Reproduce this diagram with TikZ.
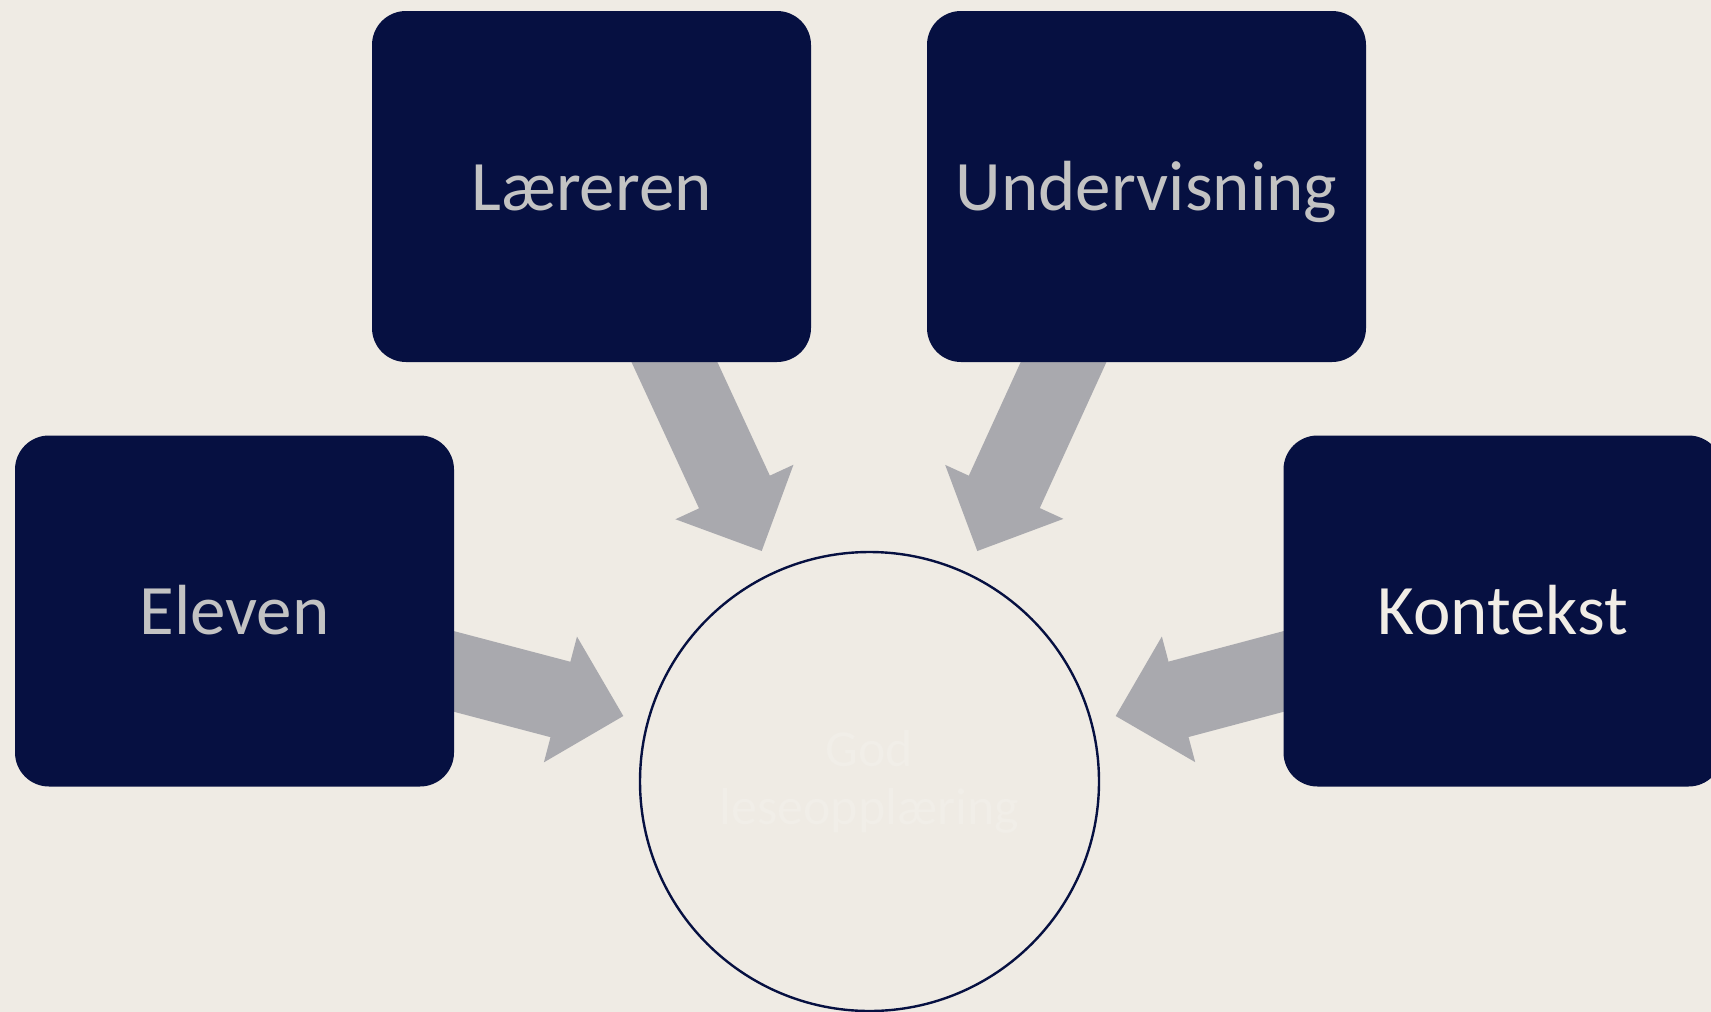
\documentclass[tikz,border=0pt]{standalone}
\usepackage{fontspec}
\setmainfont{Carlito}
\usetikzlibrary{calc}
\pgfdeclarelayer{canvas}
\pgfdeclarelayer{back}
\pgfsetlayers{canvas,back,main}

\definecolor{pagebg}{HTML}{EFEBE4}
\definecolor{navy}{HTML}{061041}
\definecolor{arrowgray}{HTML}{A9A9AE}
\definecolor{labelgray}{HTML}{C3C3C3}
\definecolor{labelcream}{HTML}{F1EDE6}
\definecolor{ghost}{HTML}{F1EEE8}

% broad block arrow from #1 (tail, hidden under a box) to #2 (tip)
\newcommand\blockarrow[2]{%
  \fill[arrowgray]
    ($(#1)!39pt!90:(#2)$)
    -- ($($(#2)!65pt!(#1)$)!39pt!90:(#2)$)
    -- ($($(#2)!65pt!(#1)$)!65pt!90:(#2)$)
    -- (#2)
    -- ($($(#2)!65pt!(#1)$)!65pt!-90:(#2)$)
    -- ($($(#2)!65pt!(#1)$)!39pt!-90:(#2)$)
    -- ($(#1)!39pt!-90:(#2)$)
    -- cycle;}

\tikzset{
  factor/.style={rectangle, rounded corners=34pt, fill=navy,
    minimum width=439pt, minimum height=351pt, inner sep=0pt,
    font=\fontsize{71}{85}\selectfont, text height=47pt, text depth=0pt},
  goal/.style={circle, draw=navy, line width=2.4pt, minimum size=459pt,
    inner sep=0pt, align=center, text=ghost,
    font=\fontsize{52}{58}\selectfont},
}

\begin{document}
\begin{tikzpicture}[x=1pt,y=-1pt]
  \useasboundingbox (0,0) rectangle (1711,1012);
  \begin{pgfonlayer}{canvas}
    \fill[pagebg] (0,0) rectangle (1711,1012);
  \end{pgfonlayer}

  % the four factors
  \node[factor, text=labelgray]  (lae) at (591.5,186.5) {Læreren};
  \node[factor, text=labelgray]  (und) at (1146.5,186.5) {Undervisning};
  \node[factor, text=labelgray]  (elv) at (234.5,611) {Eleven};
  \node[factor, text=labelcream] (kon) at (1503,611) {Kontekst};

  % the centre
  \node[goal] (mid) at (869.5,781.5) {God\\leseopplæring};

  % tips of the arrows, just outside the circle
  \coordinate (laeT) at ($(mid.center)+(-107.8,-230.5)$);
  \coordinate (undT) at ($(mid.center)+(107.8,-230.5)$);
  \coordinate (elvT) at ($(mid.center)+(-246.2,-65.5)$);
  \coordinate (konT) at ($(mid.center)+(246.2,-65.5)$);

  % where the arrow axes leave the boxes
  \coordinate (laeE) at ($(lae.south)+(83,0)$);
  \coordinate (undE) at ($(und.south)+(-83,0)$);
  \coordinate (elvE) at ($(elv.east)+(0,60.5)$);
  \coordinate (konE) at ($(kon.west)+(0,60.5)$);

  % tails tucked inside the boxes
  \coordinate (laeS) at ($(laeE)!-45pt!(laeT)$);
  \coordinate (undS) at ($(undE)!-45pt!(undT)$);
  \coordinate (elvS) at ($(elvE)!-45pt!(elvT)$);
  \coordinate (konS) at ($(konE)!-45pt!(konT)$);

  \begin{pgfonlayer}{back}
    \blockarrow{laeS}{laeT}
    \blockarrow{undS}{undT}
    \blockarrow{elvS}{elvT}
    \blockarrow{konS}{konT}
  \end{pgfonlayer}
\end{tikzpicture}
\end{document}
